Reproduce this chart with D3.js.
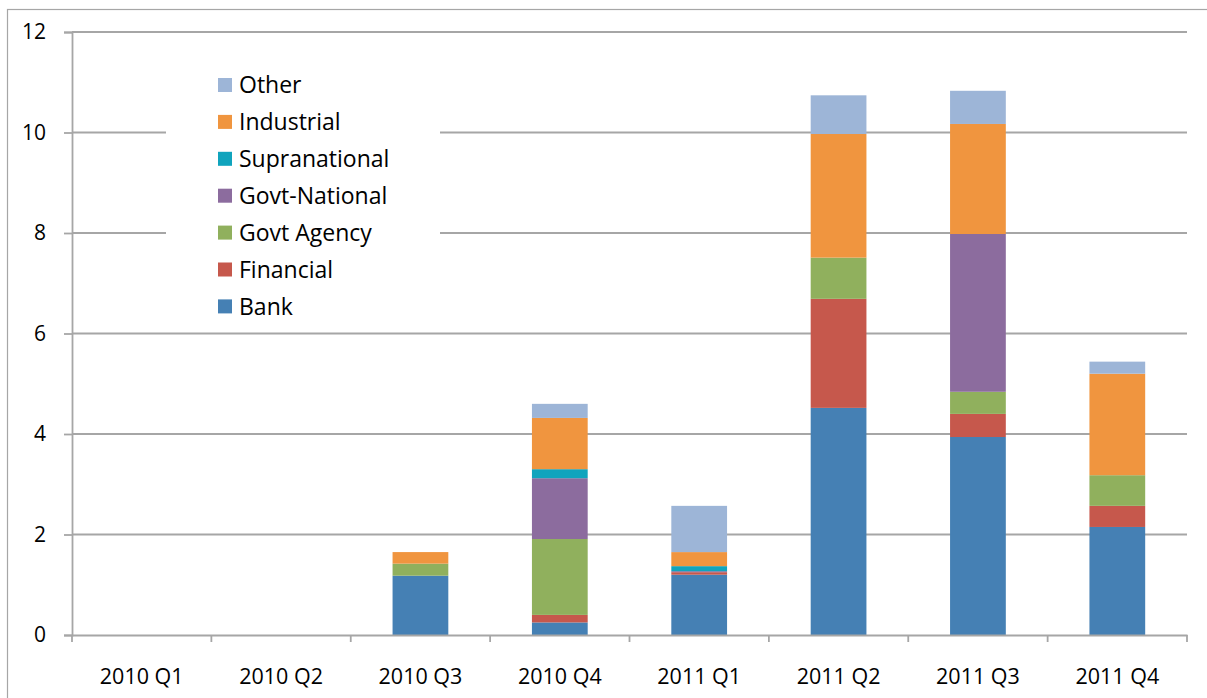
<!DOCTYPE html>
<html>
<head>
<meta charset="utf-8">
<script src="https://cdn.jsdelivr.net/npm/d3@7"></script>
<style>
  body { margin: 0; background: #fff; }
  svg { display: block; }
</style>
</head>
<body>
<div id="chart"></div>
<script>
var quarters = ['2010 Q1', '2010 Q2', '2010 Q3', '2010 Q4', '2011 Q1', '2011 Q2', '2011 Q3', '2011 Q4']
var sectors = ['Bank', 'Financial', 'Govt Agency', 'Govt-National', 'Supranational', 'Industrial', 'Other']
var bank = [0, 0, 1.18, 0.25, 1.20, 4.52, 3.94, 2.15]
var financial = [0, 0, 0, 0.15, 0.05, 2.17, 0.46, 0.42]
var govtAgency = [0, 0, 0.24, 1.51, 0, 0.82, 0.44, 0.61]
var govtNational = [0, 0, 0, 1.21, 0.02, 0, 3.14, 0]
var supranational = [0, 0, 0, 0.18, 0.10, 0, 0, 0]
var industrial = [0, 0, 0.23, 1.02, 0.28, 2.46, 2.19, 2.02]
var other = [0, 0, 0, 0.28, 0.92, 0.77, 0.66, 0.24]
var yTicks = [0, 2, 4, 6, 8, 10, 12]
var colors = ['#4580b4', '#c6584c', '#90b05d', '#8c6c9e', '#10a4bd', '#f0953f', '#9db5d7']

var width = 1207
var height = 698
var margin = { top: 32, right: 20, bottom: 63, left: 72 }
var font = 'Open Sans, sans-serif'

var rows = quarters.map(function (q, i) {
  return {
    quarter: q,
    'Bank': bank[i],
    'Financial': financial[i],
    'Govt Agency': govtAgency[i],
    'Govt-National': govtNational[i],
    'Supranational': supranational[i],
    'Industrial': industrial[i],
    'Other': other[i]
  }
})
var series = d3.stack().keys(sectors)(rows)

var x = d3.scaleBand()
  .domain(quarters)
  .range([margin.left, width - margin.right])
  .paddingInner(0.6)
  .paddingOuter(0.3)
var xb = d3.scaleBand()
  .domain(quarters)
  .range([margin.left, width - margin.right])
var y = d3.scaleLinear()
  .domain([0, 12])
  .range([height - margin.bottom, margin.top])
var color = d3.scaleOrdinal().domain(sectors).range(colors)

var svg = d3.select('#chart').append('svg')
  .attr('width', width)
  .attr('height', height)

// outer frame (runs off the right and bottom edges)
svg.append('rect')
  .attr('x', 7.5).attr('y', 9.5)
  .attr('width', width).attr('height', height)
  .attr('fill', 'none')
  .attr('stroke', '#a6a6a6')
  .attr('stroke-width', 1.2)

// gridlines
svg.append('g')
  .selectAll('line')
  .data(yTicks.slice(1))
  .enter().append('line')
  .attr('x1', margin.left).attr('x2', width - margin.right)
  .attr('y1', d => y(d)).attr('y2', d => y(d))
  .attr('stroke', '#a6a6a6')
  .attr('stroke-width', 1.8)

// legend backdrop hides the gridlines behind the legend
svg.append('rect')
  .attr('x', 166).attr('y', 66)
  .attr('width', 274).attr('height', 258)
  .attr('fill', '#fff')

// y axis
var yAxis = svg.append('g')
  .attr('transform', 'translate(' + margin.left + ',0)')
  .call(d3.axisLeft(y).tickValues(yTicks).tickSize(8).tickPadding(18))
yAxis.select('.domain').attr('stroke', '#a6a6a6').attr('stroke-width', 1.8)
yAxis.selectAll('.tick line').attr('stroke', '#a6a6a6').attr('stroke-width', 1.8)
yAxis.selectAll('text')
  .attr('font-family', font)
  .attr('font-size', 21)
  .attr('fill', '#000')

// bars
svg.append('g')
  .selectAll('g')
  .data(series)
  .enter().append('g')
  .attr('fill', d => color(d.key))
  .selectAll('rect')
  .data(d => d)
  .enter().append('rect')
  .attr('x', d => x(d.data.quarter))
  .attr('width', x.bandwidth())
  .attr('y', d => y(d[1]))
  .attr('height', d => y(d[0]) - y(d[1]))

// x axis
var xAxis = svg.append('g')
  .attr('transform', 'translate(0,' + y(0) + ')')
  .call(d3.axisBottom(xb).tickSize(0).tickPadding(34))
xAxis.select('.domain').attr('stroke', '#a6a6a6').attr('stroke-width', 1.8)
xAxis.selectAll('text')
  .attr('font-family', font)
  .attr('font-size', 21.5)
  .attr('fill', '#000')
svg.append('g')
  .selectAll('line')
  .data(d3.range(quarters.length + 1))
  .enter().append('line')
  .attr('x1', i => margin.left + i * xb.step())
  .attr('x2', i => margin.left + i * xb.step())
  .attr('y1', y(0)).attr('y2', y(0) + 7)
  .attr('stroke', '#a6a6a6')
  .attr('stroke-width', 1.8)

// legend
var item = svg.append('g')
  .selectAll('g')
  .data(sectors.slice().reverse())
  .enter().append('g')
  .attr('transform', (d, i) => 'translate(218,' + (85 + i * 36.9) + ')')
item.append('rect')
  .attr('x', 0).attr('y', -7)
  .attr('width', 14).attr('height', 14)
  .attr('fill', d => color(d))
item.append('text')
  .attr('x', 21).attr('dy', '0.36em')
  .attr('font-family', font)
  .attr('font-size', 23)
  .text(d => d)
</script>
</body>
</html>
